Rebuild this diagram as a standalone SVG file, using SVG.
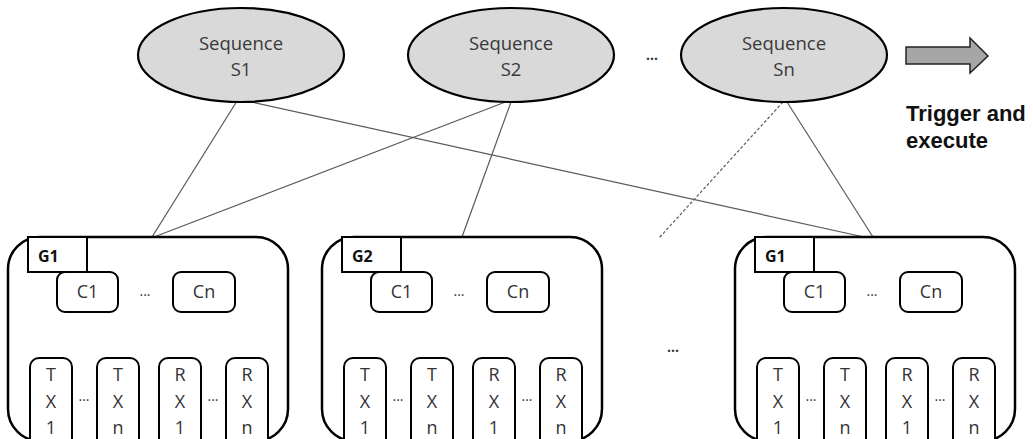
<svg xmlns="http://www.w3.org/2000/svg" width="1033" height="439" viewBox="0 0 1033 439">
<style>
.seq{fill:#d9d9d9;stroke:#000;stroke-width:2.2}
.t{font-family:"Open Sans","Noto Sans",sans-serif;font-size:18.5px;fill:#3a3a3a;text-anchor:middle}
.s{font-family:"Open Sans","Noto Sans",sans-serif;font-size:18px;fill:#333;text-anchor:middle}
.g{font-family:"Open Sans","Noto Sans",sans-serif;font-size:16px;font-weight:bold;fill:#111}
.dots{font-family:"Open Sans","Noto Sans",sans-serif;font-size:14px;fill:#333;text-anchor:middle}
.big{fill:#fff;stroke:#000;stroke-width:2.5}
.lab{fill:#fff;stroke:#000;stroke-width:2}
.box{fill:#fff;stroke:#000;stroke-width:2}
.ln{stroke:#5a5a5a;stroke-width:1.2;fill:none}
.dash{stroke:#5a5a5a;stroke-width:1.2;stroke-dasharray:3 2;fill:none}
.trig{font-family:"Liberation Sans",Arial,sans-serif;font-size:22px;font-weight:bold;fill:#111}
</style>
<defs>
<g id="grp">
<rect class="big" x="0" y="237" width="280" height="204" rx="32"/>
<rect class="lab" x="20" y="237" width="59" height="35"/>
<rect class="box" x="49" y="272" width="61" height="40" rx="8"/>
<text class="s" x="79.5" y="298">C1</text>
<text class="dots" x="137" y="296">...</text>
<rect class="box" x="165" y="272" width="62" height="40" rx="8"/>
<text class="s" x="196" y="298">Cn</text>
<rect class="box" x="22" y="358" width="42" height="100" rx="9"/>
<rect class="box" x="89" y="358" width="42" height="100" rx="9"/>
<rect class="box" x="151" y="358" width="42" height="100" rx="9"/>
<rect class="box" x="218" y="358" width="42" height="100" rx="9"/>
<text class="s" x="43" y="381">T</text><text class="s" x="43" y="408">X</text><text class="s" x="43" y="434">1</text>
<text class="s" x="110" y="381">T</text><text class="s" x="110" y="408">X</text><text class="s" x="110" y="434">n</text>
<text class="s" x="172" y="381">R</text><text class="s" x="172" y="408">X</text><text class="s" x="172" y="434">1</text>
<text class="s" x="239" y="381">R</text><text class="s" x="239" y="408">X</text><text class="s" x="239" y="434">n</text>
<text class="dots" x="76" y="401">...</text>
<text class="dots" x="205" y="401">...</text>
</g>
</defs>

<g id="connectors">
<line class="ln" x1="237" y1="101" x2="152" y2="237"/>
<line class="ln" x1="247" y1="101" x2="864" y2="237"/>
<line class="ln" x1="508" y1="101" x2="154" y2="237"/>
<line class="ln" x1="511" y1="102" x2="462" y2="237"/>
<line class="dash" x1="783" y1="102" x2="659" y2="238"/>
<line class="ln" x1="787" y1="102" x2="873" y2="237"/>
</g>

<g id="S1">
<ellipse class="seq" cx="241" cy="55" rx="103" ry="47"/>
<text class="t" x="241" y="50">Sequence</text>
<text class="t" x="241" y="76">S1</text>
</g>
<g id="S2">
<ellipse class="seq" cx="511" cy="55" rx="103" ry="47"/>
<text class="t" x="511" y="50">Sequence</text>
<text class="t" x="511" y="76">S2</text>
</g>
<g id="Sn">
<ellipse class="seq" cx="784" cy="55" rx="103" ry="47"/>
<text class="t" x="784" y="50">Sequence</text>
<text class="t" x="784" y="76">Sn</text>
</g>
<text class="dots" x="652" y="60" style="font-weight:bold">...</text>

<g id="trigger">
<polygon points="906,47 970,47 970,38 988,56 970,73 970,64 906,64" fill="#a6a6a6" stroke="#222" stroke-width="1.5"/>
<text class="trig" x="906" y="121">Trigger and</text>
<text class="trig" x="906" y="148">execute</text>
</g>

<g id="G1">
<use href="#grp" x="8" y="0"/>
<text class="g" x="38" y="262">G1</text>
</g>
<g id="G2">
<use href="#grp" x="322" y="0"/>
<text class="g" x="352" y="262">G2</text>
</g>
<text class="dots" x="673" y="352" style="font-weight:bold">...</text>
<g id="G3">
<use href="#grp" x="735" y="0"/>
<text class="g" x="765" y="262">G1</text>
</g>
</svg>
